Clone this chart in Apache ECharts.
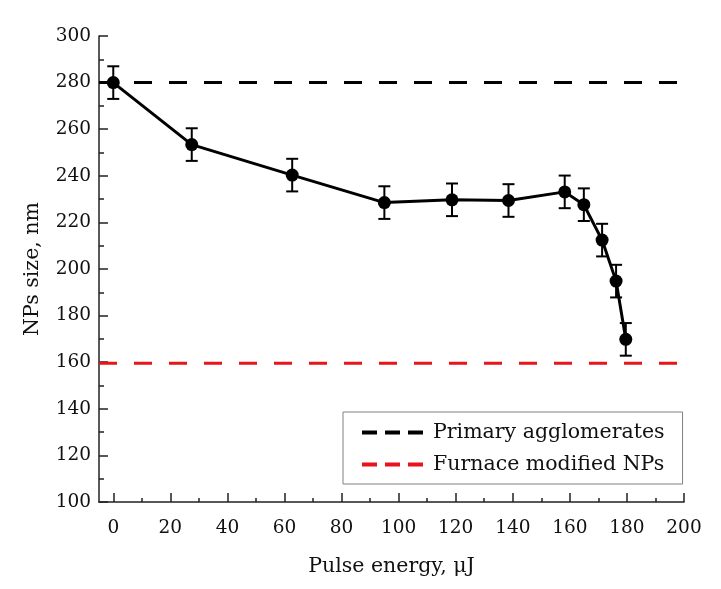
<!DOCTYPE html>
<html>
<head>
<meta charset="utf-8">
<script src="https://cdn.jsdelivr.net/npm/echarts@6/dist/echarts.min.js"></script>
<style>html,body{margin:0;padding:0;background:#fff}#c{width:721px;height:589px}</style>
</head>
<body>
<div id="c"></div>
<script>
// Data
var pulseEnergy = [0, 27.5, 62.7, 95, 118.7, 138.5, 158.2, 164.9, 171.3, 176.2, 179.6];
var npSize      = [280, 253.4, 240.3, 228.5, 229.7, 229.4, 233.1, 227.6, 212.4, 194.8, 169.8];
var npError     = [7, 7, 7, 7, 7, 7, 7, 7, 7, 7, 7];
var primaryLevel = 280;
var furnaceLevel = 159.5;
var refLineX = [-5, 207.5];
var xMajorTicks = [0, 20, 40, 60, 80, 100, 120, 140, 160, 180, 200];
var xMinorTicks = [10, 30, 50, 70, 90, 110, 130, 150, 170, 190];
var legendNames = ['Primary agglomerates', 'Furnace modified NPs'];

var FONT = 'DejaVu Serif';
var chart = echarts.init(document.getElementById('c'), null, {renderer: 'canvas'});

var seriesData = pulseEnergy.map(function (x, i) { return [x, npSize[i]]; });
var errData = pulseEnergy.map(function (x, i) { return [x, npSize[i] - npError[i], npSize[i] + npError[i]]; });

var option = {
  backgroundColor: '#ffffff',
  animation: false,
  grid: {left: 99, right: 37, top: 36, bottom: 87, containLabel: false},
  xAxis: [{
    type: 'value', min: -5, max: 200,
    name: 'Pulse energy, \u03bcJ', nameLocation: 'middle', nameGap: 54,
    nameTextStyle: {fontFamily: FONT, fontSize: 20.5, color: '#111'},
    axisLine: {show: true, onZero: false, lineStyle: {color: '#222', width: 1.5}},
    axisTick: {show: true, inside: true, length: 9, customValues: xMajorTicks, lineStyle: {color: '#222', width: 1.5}},
    axisLabel: {show: true, customValues: xMajorTicks, margin: 17, fontFamily: FONT, fontSize: 18.5, color: '#111'},
    splitLine: {show: false}
  }, {
    type: 'value', min: -5, max: 200, position: 'bottom',
    axisLine: {show: false},
    axisTick: {show: true, inside: true, length: 4, customValues: xMinorTicks, lineStyle: {color: '#222', width: 1.5}},
    axisLabel: {show: false},
    splitLine: {show: false}
  }],
  yAxis: {
    type: 'value', min: 100, max: 300, interval: 20,
    name: 'NPs size, nm', nameLocation: 'middle', nameGap: 56, nameRotate: 90,
    nameTextStyle: {fontFamily: FONT, fontSize: 20.5, color: '#111'},
    axisLine: {show: true, onZero: false, lineStyle: {color: '#222', width: 1.5}},
    axisTick: {show: true, inside: true, length: 9, lineStyle: {color: '#222', width: 1.5}},
    minorTick: {show: true, splitNumber: 2, length: 5, lineStyle: {color: '#222', width: 1.5}},
    axisLabel: {margin: 8, fontFamily: FONT, fontSize: 18.5, color: '#111'},
    splitLine: {show: false}
  },
  legend: {
    orient: 'vertical', left: 343, top: 412,
    padding: [10, 18, 9, 19], itemGap: 11,
    itemWidth: 61, itemHeight: 4,
    borderColor: '#808080', borderWidth: 1,
    icon: 'path://M0,0H15V4H0Z M23,0H38V4H23Z M46,0H61V4H46Z',
    textStyle: {fontFamily: FONT, fontSize: 20.5, color: '#111', lineHeight: 20, padding: [0, 0, 0, 5]},
    data: legendNames
  },
  series: [{
    name: legendNames[0], type: 'line', clip: false, symbol: 'none', silent: true,
    data: refLineX.map(function (x) { return [x, primaryLevel]; }),
    lineStyle: {color: '#000', width: 3, type: [18, 17]},
    itemStyle: {color: '#000'}, z: 1
  }, {
    name: legendNames[1], type: 'line', clip: false, symbol: 'none', silent: true,
    data: refLineX.map(function (x) { return [x, furnaceLevel]; }),
    lineStyle: {color: '#e8141c', width: 3, type: [18, 17]},
    itemStyle: {color: '#e8141c'}, z: 1
  }, {
    name: 'err', type: 'custom', clip: false, z: 3,
    data: errData,
    renderItem: function (params, api) {
      var x = api.value(0);
      var lo = api.coord([x, api.value(1)]);
      var hi = api.coord([x, api.value(2)]);
      var hw = 6;
      var st = {stroke: '#000', lineWidth: 2};
      return {type: 'group', children: [
        {type: 'line', shape: {x1: lo[0], y1: lo[1], x2: hi[0], y2: hi[1]}, style: st},
        {type: 'line', shape: {x1: lo[0] - hw, y1: lo[1], x2: lo[0] + hw, y2: lo[1]}, style: st},
        {type: 'line', shape: {x1: hi[0] - hw, y1: hi[1], x2: hi[0] + hw, y2: hi[1]}, style: st}
      ]};
    }
  }, {
    name: 'data', type: 'line', clip: false, z: 4,
    data: seriesData,
    symbol: 'circle', symbolSize: 13,
    lineStyle: {color: '#000', width: 3},
    itemStyle: {color: '#000'}
  }]
};
chart.setOption(option);
</script>
</body>
</html>
